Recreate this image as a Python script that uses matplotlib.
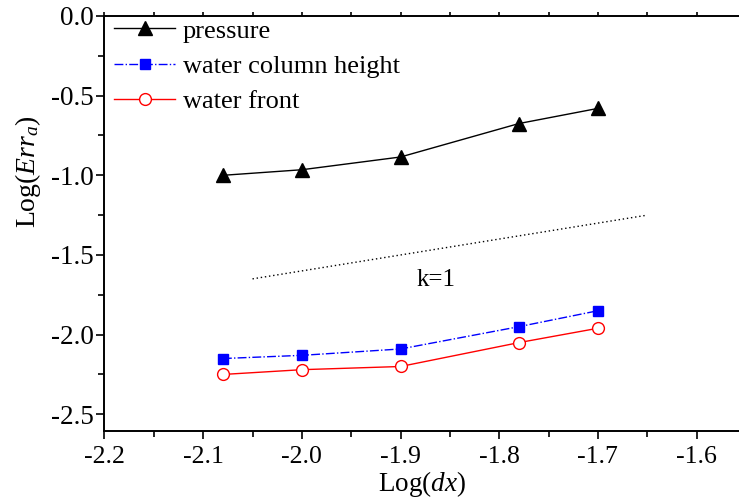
import matplotlib
matplotlib.use("Agg")
import matplotlib.pyplot as plt
from matplotlib.ticker import MultipleLocator

plt.rcParams['font.family'] = 'Liberation Serif'
plt.rcParams['mathtext.fontset'] = 'custom'
plt.rcParams['mathtext.rm'] = 'Liberation Serif'
plt.rcParams['mathtext.it'] = 'Liberation Serif:italic'

# data
xvals = [-2.08, -2.0, -1.9, -1.78, -1.7]
pressure = [-1.0, -0.965, -0.885, -0.675, -0.58]
column_height = [-2.15, -2.13, -2.09, -1.95, -1.85]
water_front = [-2.25, -2.22, -2.20, -2.05, -1.96]
slope_x = [-2.05, -1.65]
slope_y = [-1.65, -1.25]

fig = plt.figure(figsize=(7.39, 5.03), dpi=100)
ax = fig.add_axes([0.1414, 0.1431, 0.8586, 0.8251])

ax.plot(xvals, pressure, color="black", lw=1, marker="^", ms=10, label="pressure")
ax.plot(xvals, column_height, color="blue", lw=1, ls="-.", marker="s", ms=7.5,
        label="water column height")
ax.plot(xvals, water_front, color="red", lw=1, marker="o", ms=8.5, mfc="white",
        mec="red", label="water front")
ax.plot(slope_x, slope_y, color="black", lw=1, ls=(0, (1, 2)))
ax.text(-1.864, -1.66, "k=1", fontsize=18, ha="center", va="center")

ax.set_xlim(-2.2, -1.557)
ax.set_ylim(-2.605, 0.0)
ax.xaxis.set_minor_locator(MultipleLocator(0.05))
ax.yaxis.set_minor_locator(MultipleLocator(0.25))
ax.set_xticks([-2.2, -2.1, -2.0, -1.9, -1.8, -1.7, -1.6])
ax.set_xticklabels(["-2.2", "-2.1", "-2.0", "-1.9", "-1.8", "-1.7", "-1.6"])
ax.set_yticks([0.0, -0.5, -1.0, -1.5, -2.0, -2.5])
ax.set_yticklabels(["0.0", "-0.5", "-1.0", "-1.5", "-2.0", "-2.5"])

ax.tick_params(which="major", direction="out", length=6, width=1.2, labelsize=19.5,
               top=True, right=False)
ax.tick_params(which="minor", direction="out", length=4, width=1.2, top=True, right=False)
ax.tick_params(axis="x", which="major", pad=5, labelsize=18.5)
ax.tick_params(axis="y", which="major", pad=2)
for t in ax.xaxis.get_major_ticks() + ax.xaxis.get_minor_ticks():
    t.tick2line.set_markersize(3)
for s in ["left", "bottom", "top"]:
    ax.spines[s].set_linewidth(1.4)
ax.spines["right"].set_visible(False)

ax.set_xlabel("Log($dx$)", fontsize=19.5)
ax.xaxis.set_label_coords(0.5, -0.092)
ax.set_ylabel("Log($Err_a$)", fontsize=20)
ax.yaxis.set_label_coords(-0.097, 0.624)

ax.legend(loc="upper left", frameon=False, fontsize=19, handlelength=2.3,
          borderpad=0.2, borderaxespad=0, bbox_to_anchor=(0.007, 1.005),
          labelspacing=0.45, handletextpad=0.3)

fig.savefig("out.png", dpi=100)
